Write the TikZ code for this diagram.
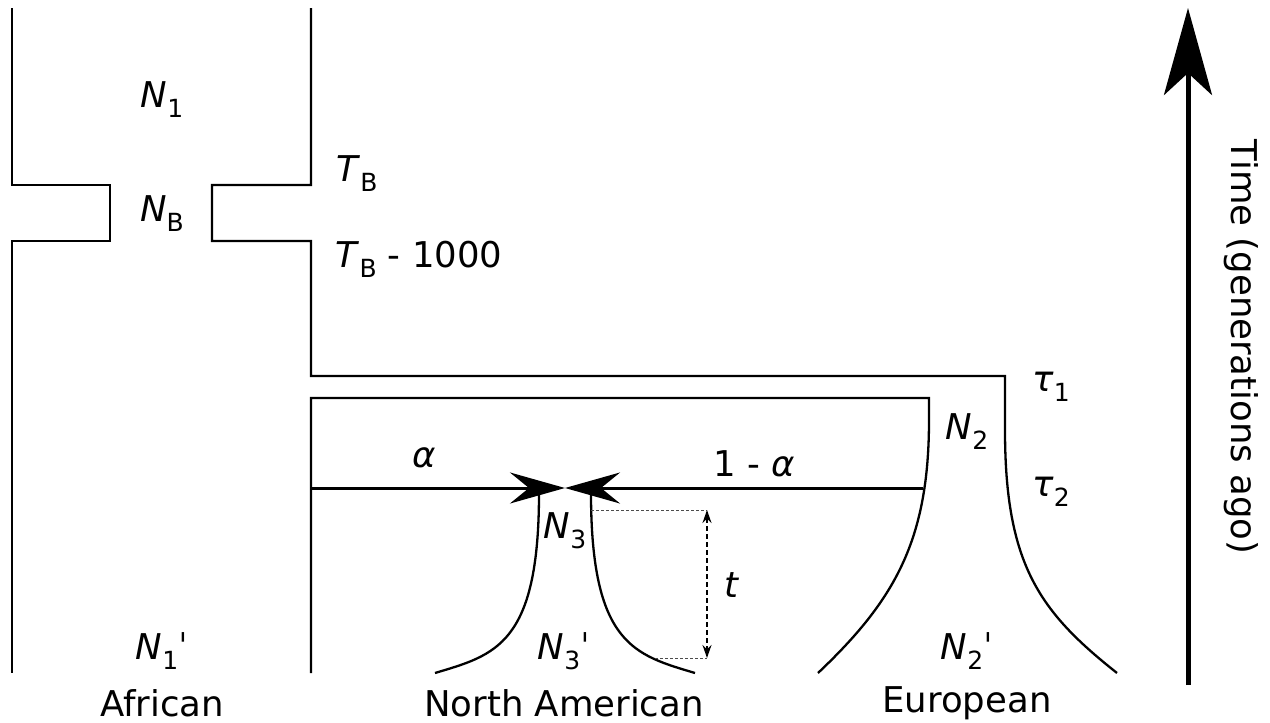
\documentclass[tikz,border=0pt]{standalone}
\usepackage{fontspec}
\setmainfont{DejaVu Sans}
\usetikzlibrary{arrows.meta}
\newcommand\lsub[1]{\raisebox{-0.28em}{\fontsize{25}{28}\selectfont #1}}
\newcommand\pr{ˈ}
\begin{document}
\begin{tikzpicture}[x=1pt,y=-1pt,
  lbl/.style={font=\fontsize{35.5}{40}\selectfont, inner sep=0pt},
  wall/.style={line width=2.3pt, line join=miter},
  mig/.style={line width=3pt, -{Stealth[length=55pt,width=31pt,inset=19pt]}},
  guide/.style={line width=0.8pt, densely dashed, black!70},
  span/.style={line width=1.7pt, dash pattern=on 5pt off 3pt, {Stealth[length=13pt,width=9pt]}-{Stealth[length=13pt,width=9pt]}},
  timearrow/.style={line width=5pt, -{Stealth[length=87pt,width=48pt,inset=22pt]}}]
\useasboundingbox (0,0) rectangle (1270,723);
% coordinates
\coordinate (aTop) at (12,8);
\coordinate (aBot) at (12,673);
\coordinate (bTop) at (311,8);
\coordinate (naBot) at (311,673);
\coordinate (mixL) at (311,488);
\coordinate (mixR) at (923,488);
\coordinate (mixC) at (565,488);
\coordinate (gTop) at (707,510);
\coordinate (gBot) at (707,658);
\coordinate (tBot) at (1188,685);
\coordinate (tTop) at (1188,8);
% African / bottleneck walls
\draw[wall] (aTop) -- (12,185) -- (110,185) -- (110,241) -- (12,241) -- (aBot);
\draw[wall] (bTop) -- (311,185) -- (212,185) -- (212,241) -- (311,241) -- (311,376) -- (1005,376) -- (1005,430)
  .. controls (1005,565) and (1040,612) .. (1117,673);
\draw[wall] (naBot) -- (311,398) -- (929,398) -- (929,420)
  .. controls (929,540) and (895,600) .. (818,673);
% North American
\draw[wall] (539,493) .. controls (539,645) and (495,655) .. (435,673);
\draw[wall] (591,493) .. controls (591,645) and (635,655) .. (695,673);
% admixture arrows
\draw[mig] (mixL) -- (mixC);
\draw[mig] (mixR) -- (mixC);
% t interval
\draw[guide] (591,510) -- (gTop);
\draw[guide] (655,658) -- (gBot);
\draw[span] (gTop) -- (gBot);
% time arrow
\draw[timearrow] (tBot) -- (tTop);
% labels
\node[lbl] (n1) at (162,100) {\textit{N}\lsub{1}};
\node[lbl] (nb) at (162,214) {\textit{N}\lsub{B}};
\node[lbl] (tb) at (357,174) {\textit{T}\lsub{B}};
\node[lbl] (tb1) at (419,259) {\textit{T}\lsub{B} - 1000};
\node[lbl] (tau1) at (1051,387) {\textit{τ}\lsub{1}};
\node[lbl] (n2) at (967,432) {\textit{N}\lsub{2}};
\node[lbl] (tau2) at (1051,492) {\textit{τ}\lsub{2}};
\node[lbl] (al) at (424,458) {\textit{α}};
\node[lbl] (oma) at (754,464) {1 - \textit{α}};
\node[lbl] (n3) at (565,531) {\textit{N}\lsub{3}};
\node[lbl] (t) at (732,585) {\textit{t}};
\node[lbl] (n1p) at (162,651) {\textit{N}\lsub{1}\pr};
\node[lbl] (n3p) at (564,651) {\textit{N}\lsub{3}\pr};
\node[lbl] (n2p) at (967,651) {\textit{N}\lsub{2}\pr};
\node[lbl] (af) at (162,703) {African};
\node[lbl] (na) at (564,703) {North American};
\node[lbl] (eu) at (967,703) {European};
\node[lbl, rotate=-90] (time) at (1241,347) {Time (generations ago)};
\end{tikzpicture}
\end{document}
